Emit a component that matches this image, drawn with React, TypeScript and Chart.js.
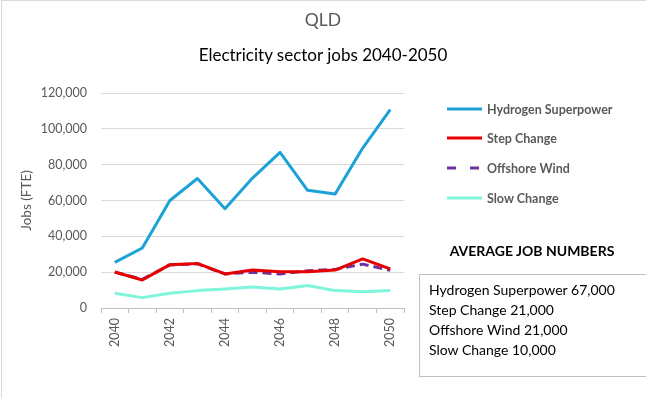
import React, { useEffect, useRef } from "react";
import { Chart, registerables } from "chart.js";

Chart.register(...registerables);

const years = ["2040", "2041", "2042", "2043", "2044", "2045", "2046", "2047", "2048", "2049", "2050"];
const hydrogenSuperpower = [25500, 33500, 60000, 72300, 55400, 72500, 86900, 65700, 63600, 89300, 110700];
const stepChange = [20100, 15600, 24200, 24900, 19000, 21200, 20300, 20300, 21200, 27400, 21800];
const offshoreWind = [20000, 16000, 24000, 24600, 19000, 20000, 19000, 20800, 21500, 24500, 21000];
const slowChange = [8200, 5800, 8200, 9700, 10600, 11700, 10600, 12600, 9700, 9100, 9700];

const seriesNames = ["Hydrogen Superpower", "Step Change", "Offshore Wind", "Slow Change"];
const seriesColors = ["#1da2d8", "#e60000", "#7030a0", "#7ff5dc"];
const averageLines = [
  "Hydrogen Superpower 67,000",
  "Step Change 21,000",
  "Offshore Wind 21,000",
  "Slow Change 10,000",
];

const FONT = "Lato, 'Open Sans', sans-serif";

export default function App() {
  const ref = useRef<HTMLCanvasElement | null>(null);

  useEffect(() => {
    if (!ref.current) return;
    const seriesData = [hydrogenSuperpower, stepChange, offshoreWind, slowChange];
    const chart = new Chart(ref.current, {
      type: "line",
      data: {
        labels: years,
        datasets: seriesNames.map((name, i) => ({
          label: name,
          data: seriesData[i],
          borderColor: seriesColors[i],
          backgroundColor: seriesColors[i],
          borderWidth: 3,
          borderDash: i === 2 ? [9, 5] : [],
          pointRadius: 0,
          tension: 0,
          borderJoinStyle: "round" as const,
          fill: false,
        })),
      },
      options: {
        responsive: false,
        animation: false,
        layout: { padding: { left: 15, top: 93, right: 242, bottom: 0 } },
        plugins: { legend: { display: false }, title: { display: false }, tooltip: { enabled: false } },
        scales: {
          x: {
            offset: true,
            afterFit: (s: any) => {
              s.height = 90;
            },
            grid: { drawOnChartArea: false, tickLength: 5, offset: true, color: "#bfbfbf" },
            border: { color: "#bfbfbf" },
            ticks: {
              autoSkip: false,
              maxRotation: 90,
              minRotation: 90,
              padding: 5,
              color: "#595959",
              font: { family: FONT, size: 12.5 },
              callback: (_v: any, i: number) => (i % 2 === 0 ? years[i] : ""),
            },
          },
          y: {
            min: 0,
            max: 120000,
            afterFit: (s: any) => {
              s.width = 86;
            },
            grid: { drawTicks: false, color: "#d9d9d9" },
            border: { display: false },
            ticks: {
              stepSize: 20000,
              padding: 14,
              color: "#595959",
              font: { family: FONT, size: 12.5 },
              callback: (v: any) => Number(v).toLocaleString("en-US"),
            },
            title: {
              display: true,
              text: "Jobs (FTE)",
              color: "#595959",
              font: { family: FONT, size: 13.5 },
              padding: { top: 4, bottom: 0 },
            },
          },
        },
      },
    });
    return () => chart.destroy();
  }, []);

  const legendY = [109, 138, 168, 198];

  return (
    <div
      style={{
        position: "fixed",
        left: 0,
        top: 0,
        width: 646,
        height: 398,
        background: "#fff",
        overflow: "hidden",
        fontFamily: FONT,
      }}
    >
      <canvas ref={ref} width={646} height={398} style={{ position: "absolute", left: 0, top: 0, width: 646, height: 398 }} />
      <div
        style={{
          position: "absolute",
          left: 1,
          top: 0,
          width: 700,
          height: 500,
          borderTop: "1px solid #d9d9d9",
          borderLeft: "1px solid #d9d9d9",
          pointerEvents: "none",
        }}
      />
      <div style={{ position: "absolute", left: 0, width: 646, top: 10, textAlign: "center", fontSize: 17.5, color: "#595959", lineHeight: "20px" }}>
        QLD
      </div>
      <div style={{ position: "absolute", left: 0, width: 646, top: 45, textAlign: "center", fontSize: 17, color: "#000", lineHeight: "20px" }}>
        Electricity sector jobs 2040-2050
      </div>
      {seriesNames.map((name, i) => (
        <div key={name} style={{ position: "absolute", left: 447, top: legendY[i] - 10, height: 20, display: "flex", alignItems: "center" }}>
          <svg width={36} height={20} style={{ display: "block" }}>
            <line
              x1={0}
              y1={10}
              x2={35}
              y2={10}
              stroke={seriesColors[i]}
              strokeWidth={3}
              strokeDasharray={i === 2 ? "9 14" : undefined}
            />
          </svg>
          <span style={{ marginLeft: 4, fontSize: 12.5, fontWeight: 700, color: "#595959", whiteSpace: "nowrap" }}>{name}</span>
        </div>
      ))}
      <div style={{ position: "absolute", left: 412, width: 240, top: 241, textAlign: "center", fontSize: 14, fontWeight: 700, color: "#000", lineHeight: "20px" }}>
        AVERAGE JOB NUMBERS
      </div>
      <div
        style={{
          position: "absolute",
          left: 419,
          top: 274,
          width: 260,
          height: 103,
          border: "1px solid #bfbfbf",
          boxSizing: "border-box",
          padding: "5px 0 0 9px",
        }}
      >
        {averageLines.map((t) => (
          <div key={t} style={{ fontSize: 14, color: "#000", lineHeight: "20px", whiteSpace: "nowrap" }}>
            {t}
          </div>
        ))}
      </div>
    </div>
  );
}
